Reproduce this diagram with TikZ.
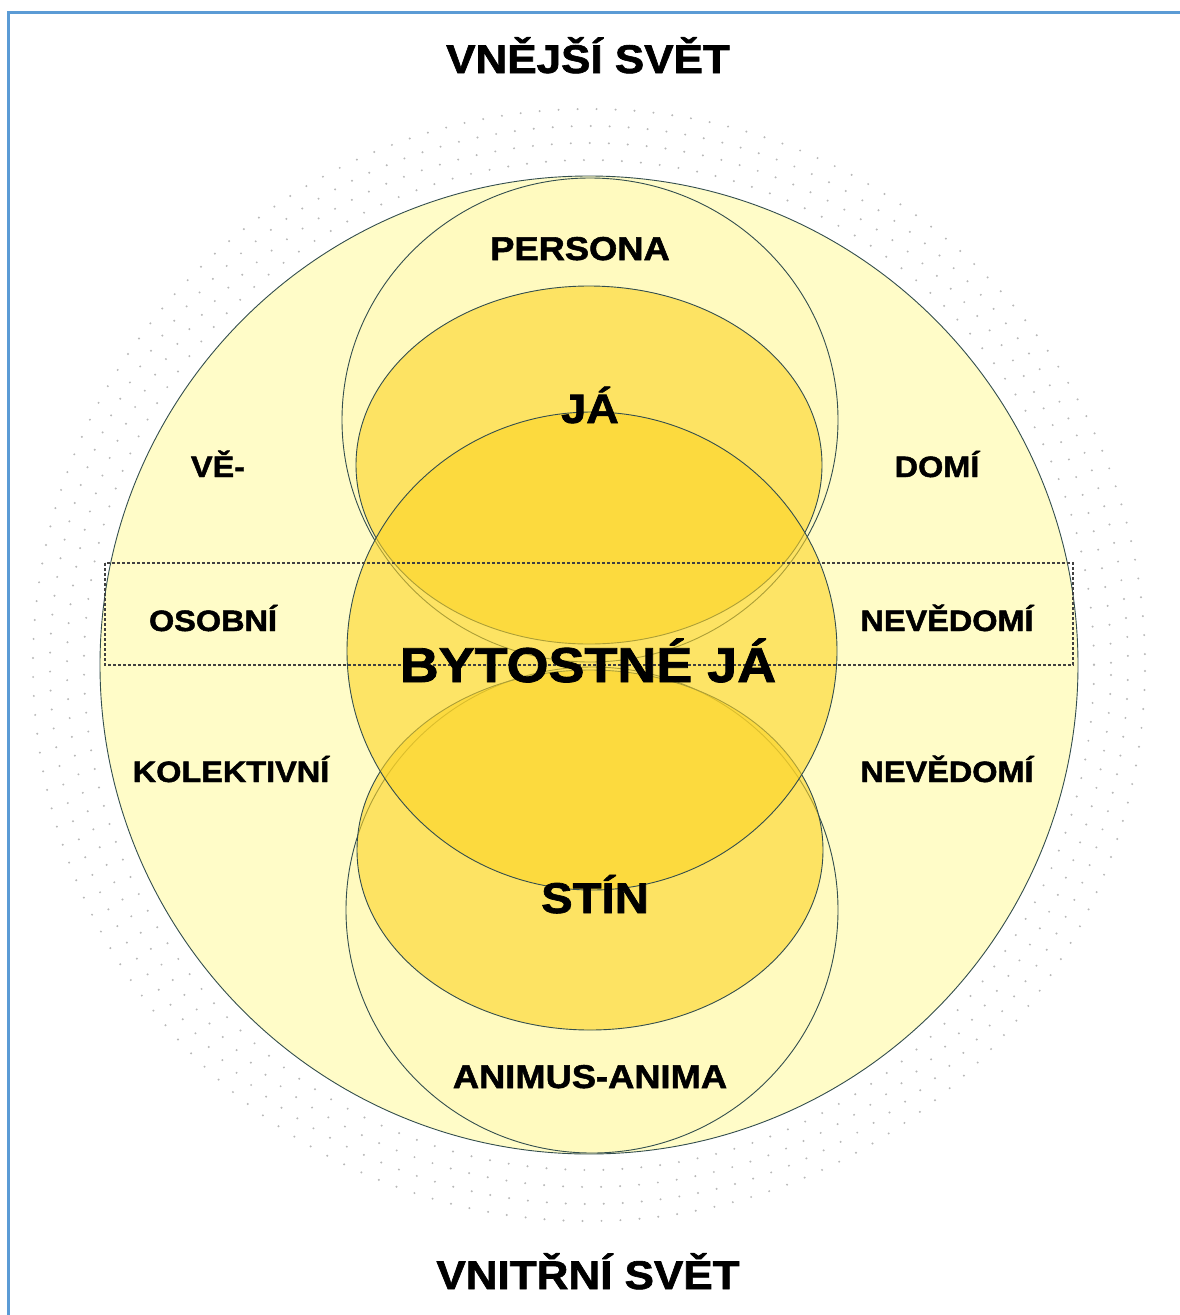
\documentclass[tikz,border=0pt]{standalone}
\usepackage{fontspec}
\newfontfamily\lbl{Liberation Sans}[FakeStretch=1.1,FakeBold=1.6]
\begin{document}
\begin{tikzpicture}[x=1pt,y=-1pt,
  outline/.style={draw=black!65!teal!60!gray, line width=0.9pt},
  ring/.style={draw=black!28, line width=2.2pt, line cap=round, dash pattern=on 0pt off 19pt},
  lab/.style={anchor=base, inner sep=0pt, font=\lbl\bfseries\fontsize{#1}{#1}\selectfont},
  lab/.default=30]
\definecolor{pale}{RGB}{255,252,200}
\definecolor{paleb}{RGB}{255,250,185}
\definecolor{gold}{RGB}{252,212,38}
\definecolor{borderblue}{RGB}{91,155,213}
\useasboundingbox (0,0) rectangle (1180,1315);
\fill[white] (0,0) rectangle (1180,1315);
\draw[borderblue, line width=3pt] (8,1315) -- (8,12) -- (1180,12);
% dotted outer ring
\foreach \r/\o in {505/0, 522/9, 539/4, 556/13} {
  \draw[ring, dash phase=\o pt] (589,665) circle (\r);
}
% big circle
\draw[outline, fill=pale] (589,665) circle (489);
% persona and animus
\draw[outline, fill=paleb, fill opacity=0.6] (590,420) ellipse (248 and 242);
\draw[outline, fill=paleb, fill opacity=0.6] (592,910) ellipse (246 and 243);
% JA and STIN
\draw[outline, fill=gold, fill opacity=0.6] (589,465) ellipse (233 and 179);
\draw[outline, fill=gold, fill opacity=0.6] (590,850) ellipse (233 and 180);
% self
\draw[outline, fill=gold, fill opacity=0.6] (592,651) ellipse (245 and 239);
% dashed band
\draw[black!75, line width=1.3pt, dash pattern=on 3pt off 2pt] (105,563) rectangle (1073,665);
% texts
\node[lab=40] (outer) at (588,73) {VNĚJŠÍ SVĚT};
\node[lab=33] (persona) at (580,260) {PERSONA};
\node[lab=41] (ja) at (590,423) {JÁ};
\node[lab=29.5] (ve) at (218,477) {VĚ-};
\node[lab=29.5] (domi) at (937,477) {DOMÍ};
\node[lab=29.5] (osobni) at (213,631) {OSOBNÍ};
\node[lab=29.5] (nevedomi1) at (947,631) {NEVĚDOMÍ};
\node[lab=49] (self) at (588,682) {BYTOSTNÉ JÁ};
\node[lab=29.5] (kolekt) at (231,782) {KOLEKTIVNÍ};
\node[lab=29.5] (nevedomi2) at (947,782) {NEVĚDOMÍ};
\node[lab=43] (stin) at (595,913) {STÍN};
\node[lab=33] (animus) at (590,1088) {ANIMUS-ANIMA};
\node[lab=40] (inner) at (588,1289) {VNITŘNÍ SVĚT};
\end{tikzpicture}
\end{document}
